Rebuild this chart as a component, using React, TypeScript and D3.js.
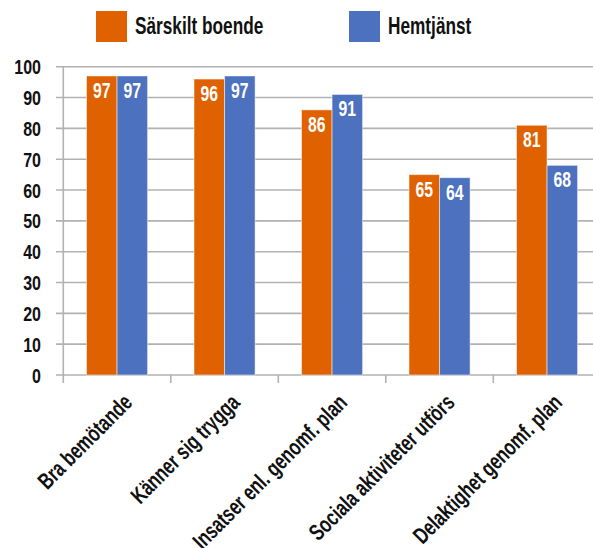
import React, { useEffect, useRef } from 'react'
import * as d3 from 'd3'

const categories = [
	'Bra bemötande',
	'Känner sig trygga',
	'Insatser enl. genomf. plan',
	'Sociala aktiviteter utförs',
	'Delaktighet genomf. plan',
]
const seriesNames = ['Särskilt boende', 'Hemtjänst']
const sarskiltBoende = [97, 96, 86, 65, 81]
const hemtjanst = [97, 97, 91, 64, 68]
const yTicks = [0, 10, 20, 30, 40, 50, 60, 70, 80, 90, 100]
const colors = ['#E06100', '#4C71BE']

// no condensed face installed, so squeeze a bold sans horizontally
const FONT = '"Liberation Sans", Arial, sans-serif'

export default function App() {
	const ref = useRef<SVGSVGElement>(null)

	useEffect(() => {
		const width = 593
		const svg = d3.select(ref.current)
		svg.selectAll('*').remove()

		const rows = categories.map((c, i) => ({ cat: c, values: [sarskiltBoende[i], hemtjanst[i]] }))

		const x0 = d3.scaleBand().domain(categories).range([63.3, 600.8]).padding(0)
		const x1 = d3.scaleBand().domain(seriesNames).range([0, x0.bandwidth()]).paddingInner(0).paddingOuter(0.76)
		const y = d3.scaleLinear().domain([0, 100]).range([375, 66.7])

		const label = (g, size) => g
			.attr('font-family', FONT)
			.attr('font-weight', 'bold')
			.attr('font-size', size)

		// gridlines
		svg.append('g')
			.selectAll('line')
			.data(yTicks)
			.join('line')
				.attr('x1', 56)
				.attr('x2', width)
				.attr('y1', d => y(d))
				.attr('y2', d => y(d))
				.attr('stroke', '#b2b2b2')
				.attr('stroke-width', 1.6)

		// y axis line + category ticks
		svg.append('line')
			.attr('x1', x0.range()[0]).attr('x2', x0.range()[0])
			.attr('y1', y(100)).attr('y2', y(0) + 8)
			.attr('stroke', '#b2b2b2').attr('stroke-width', 1.6)
		svg.append('g')
			.selectAll('line')
			.data(categories.slice(1))
			.join('line')
				.attr('x1', d => x0(d)!)
				.attr('x2', d => x0(d)!)
				.attr('y1', y(0))
				.attr('y2', y(0) + 8)
				.attr('stroke', '#b2b2b2')
				.attr('stroke-width', 1.6)

		// y labels
		svg.append('g')
			.selectAll('text')
			.data(yTicks)
			.join('text')
				.attr('transform', d => `translate(41,${y(d) + 7.5}) scale(0.8,1)`)
				.attr('text-anchor', 'end')
				.call(label, 20)
				.attr('fill', '#111')
				.text(d => d)

		// bars
		const groups = svg.append('g')
			.selectAll('g')
			.data(rows)
			.join('g')
				.attr('transform', d => `translate(${x0(d.cat)},0)`)

		groups.selectAll('rect')
			.data(d => d.values.map((v, i) => ({ key: seriesNames[i], v, i })))
			.join('rect')
				.attr('x', d => x1(d.key)!)
				.attr('y', d => y(d.v))
				.attr('width', x1.bandwidth())
				.attr('height', d => y(0) - y(d.v))
				.attr('fill', d => colors[d.i])
				.attr('stroke', '#fff')
				.attr('stroke-opacity', 0.5)
				.attr('stroke-width', 1)

		groups.selectAll('text')
			.data(d => d.values.map((v, i) => ({ key: seriesNames[i], v, i })))
			.join('text')
				.attr('transform', d => `translate(${x1(d.key)! + x1.bandwidth() / 2},${y(d.v) + 22}) scale(0.7,1)`)
				.attr('text-anchor', 'middle')
				.call(label, 22.5)
				.attr('fill', '#fff')
				.text(d => d.v)

		// category labels
		svg.append('g')
			.selectAll('text')
			.data(categories)
			.join('text')
				.attr('transform', d => `translate(${x0(d)! + x0.bandwidth() / 2 + 16.5},${y(0) + 29}) rotate(-45) scale(0.73,1)`)
				.attr('text-anchor', 'end')
				.call(label, 23)
				.attr('fill', '#111')
				.text(d => d)

		// legend
		const legendX = [96, 349]
		const legend = svg.append('g')
			.selectAll('g')
			.data(seriesNames)
			.join('g')
				.attr('transform', (d, i) => `translate(${legendX[i]},11)`)
		legend.append('rect')
			.attr('width', 31)
			.attr('height', 31)
			.attr('fill', (d, i) => colors[i])
		legend.append('text')
			.attr('transform', 'translate(39,23.3) scale(0.75,1)')
			.call(label, 23)
			.attr('fill', '#111')
			.text(d => d)
	}, [])

	return (
		<svg ref={ref} width={593} height={548} style={{ position: 'absolute', left: 0, top: 0, background: '#fff' }} />
	)
}
